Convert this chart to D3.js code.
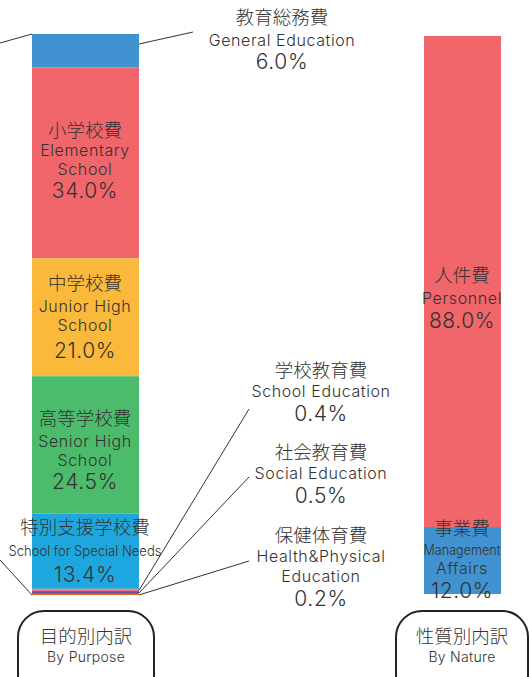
<!DOCTYPE html>
<html>
<head>
<meta charset="utf-8">
<script src="https://cdn.jsdelivr.net/npm/d3@7"></script>
<style>
  html, body { margin: 0; padding: 0; background: #fff; }
  svg { display: block; }
  text { fill: #333; font-family: "Noto Sans CJK JP", "Noto Sans", sans-serif; font-weight: 300; }
  .jp { font-size: 18.5px; }
  .en { font-size: 16px; font-family: Inter, "Liberation Sans", sans-serif; font-weight: 300; letter-spacing: 0.6px; }
  .pct { font-size: 21px; font-family: Inter, "Liberation Sans", sans-serif; font-weight: 300; letter-spacing: 0.6px; }
</style>
</head>
<body>
<div class="chart"></div>
<script>
// by purpose (top to bottom)
var purposeJa = ['教育総務費', '小学校費', '中学校費', '高等学校費', '特別支援学校費', '学校教育費', '社会教育費', '保健体育費'];
var purposeEn = [['General Education'], ['Elementary', 'School'], ['Junior High', 'School'], ['Senior High', 'School'],
                 ['School for Special Needs'], ['School Education'], ['Social Education'], ['Health&Physical', 'Education']];
var purposeValues = [6.0, 34.0, 21.0, 24.5, 13.4, 0.4, 0.5, 0.2];
var purposeColors = ['#4192d1', '#f0666a', '#fbb93b', '#4dbb6c', '#1ea7de', '#f27d8e', '#6a4d9b', '#e0622b'];

// by nature (top to bottom)
var natureJa = ['人件費', '事業費'];
var natureEn = [['Personnel'], ['Management', 'Affairs']];
var natureValues = [88.0, 12.0];
var natureColors = ['#f0666a', '#4192d1'];

var width = 529, height = 677;

var svg = d3.select('.chart').append('svg')
    .attr('width', width)
    .attr('height', height);

function stack(values) {
    var acc = 0;
    return values.map(function(v) { var d = {y0: acc, y1: acc + v, v: v}; acc += v; return d; });
}

function drawBar(values, colors, x0, x1, top, bottom) {
    var y = d3.scaleLinear().domain([0, d3.sum(values)]).range([top, bottom]);
    var segs = stack(values);
    svg.append('g').selectAll('rect')
        .data(segs)
        .enter().append('rect')
        .attr('x', x0)
        .attr('width', x1 - x0)
        .attr('y', function(d) { return y(d.y0); })
        .attr('height', function(d) { return y(d.y1) - y(d.y0); })
        .attr('fill', function(d, i) { return colors[i]; });
    return {y: y, segs: segs};
}

function label(cx, ys, ja, en, pct, opts) {
    opts = opts || {};
    var g = svg.append('g').attr('text-anchor', 'middle');
    g.append('text').attr('class', 'jp').attr('x', cx).attr('y', ys[0]).text(ja);
    en.forEach(function(t, i) {
        var tx = g.append('text').attr('class', 'en').attr('x', cx).attr('y', ys[1 + i]).text(t);
        if (opts.fit && opts.fit[i]) {
            // condensed line, squeezed to the width seen in the picture
            tx.attr('textLength', opts.fit[i]).attr('lengthAdjust', 'spacingAndGlyphs')
              .style('letter-spacing', '0px').style('font-size', '14.5px');
        }
    });
    g.append('text').attr('class', 'pct').attr('x', cx).attr('y', ys[ys.length - 1]).text(pct.toFixed(1) + '%');
}

var left = drawBar(purposeValues, purposeColors, 32, 139, 34, 595);
var right = drawBar(natureValues, natureColors, 424, 501, 36, 594);

// leader lines
var line = svg.append('g').attr('stroke', '#333').attr('stroke-width', 1).attr('fill', 'none');
line.append('path').attr('d', 'M0,43L32,' + left.y(0));
line.append('path').attr('d', 'M0,560L32,' + left.y(100));
line.append('path').attr('d', 'M139,' + (left.y(0) + 10) + 'L193,32');
var small = [5, 6, 7];
var ends = [[249, 409], [249, 477], [249, 561]];
small.forEach(function(k, i) {
    var s = left.segs[k];
    line.append('path').attr('d', 'M139,' + (left.y((s.y0 + s.y1) / 2) + 0.5) + 'L' + ends[i][0] + ',' + ends[i][1]);
});

// labels
label(282, [24, 46, 69], purposeJa[0], purposeEn[0], purposeValues[0]);
label(85, [137, 156, 175, 198], purposeJa[1], purposeEn[1], purposeValues[1]);
label(85, [290, 312, 331, 358], purposeJa[2], purposeEn[2], purposeValues[2]);
label(85, [425, 447, 466, 489], purposeJa[3], purposeEn[3], purposeValues[3]);
label(85, [534, 556, 582], purposeJa[4], purposeEn[4], purposeValues[4], {fit: [153]});
label(321, [377, 397, 421], purposeJa[5], purposeEn[5], purposeValues[5]);
label(321, [459, 479, 503], purposeJa[6], purposeEn[6], purposeValues[6]);
label(321, [542, 562, 582, 606], purposeJa[7], purposeEn[7], purposeValues[7]);

label(462, [282, 304, 328], natureJa[0], natureEn[0], natureValues[0]);
label(462, [535, 555, 574, 598], natureJa[1], natureEn[1], natureValues[1], {fit: [77]});

// category boxes
var boxes = [
    {x0: 18, x1: 154, ja: '目的別内訳', en: 'By Purpose'},
    {x0: 396, x1: 528, ja: '性質別内訳', en: 'By Nature'}
];
var bg = svg.append('g');
boxes.forEach(function(b) {
    bg.append('rect')
        .attr('x', b.x0).attr('y', 611)
        .attr('width', b.x1 - b.x0).attr('height', 90)
        .attr('rx', 26).attr('ry', 26)
        .attr('fill', '#fff').attr('stroke', '#222').attr('stroke-width', 2);
    bg.append('text').attr('class', 'jp').attr('text-anchor', 'middle')
        .attr('x', (b.x0 + b.x1) / 2).attr('y', 643).text(b.ja);
    bg.append('text').attr('text-anchor', 'middle')
        .attr('x', (b.x0 + b.x1) / 2).attr('y', 662)
        .style('font-size', '14px').style('letter-spacing', '0.3px')
        .style('font-family', 'Inter, "Liberation Sans", sans-serif').style('font-weight', 300)
        .text(b.en);
});
</script>
</body>
</html>
